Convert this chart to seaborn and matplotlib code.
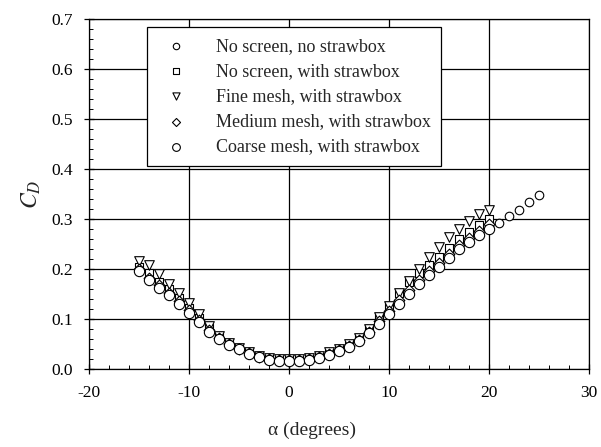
import numpy as np
import pandas as pd
import matplotlib
matplotlib.use('Agg')
import matplotlib.pyplot as plt
import seaborn as sns
from matplotlib.ticker import MultipleLocator

# angle of attack (degrees)
alpha_long = list(range(-15, 26))
alpha_std = list(range(-15, 21))

# drag coefficient per configuration
cd_no_screen_no_box = [0.198, 0.180, 0.164, 0.150, 0.133, 0.115, 0.096, 0.077, 0.062, 0.050,
                       0.041, 0.032, 0.025, 0.020, 0.018, 0.018, 0.018, 0.020, 0.023, 0.030,
                       0.037, 0.045, 0.057, 0.073, 0.093, 0.113, 0.133, 0.152, 0.172, 0.190,
                       0.208, 0.226, 0.243, 0.258, 0.272, 0.286, 0.293, 0.306, 0.318, 0.335, 0.349]
cd_no_screen_box = [0.205, 0.192, 0.175, 0.160, 0.142, 0.123, 0.103, 0.082, 0.065, 0.052,
                    0.043, 0.034, 0.026, 0.021, 0.019, 0.019, 0.020, 0.022, 0.026, 0.033,
                    0.040, 0.049, 0.062, 0.080, 0.105, 0.127, 0.152, 0.175, 0.192, 0.208,
                    0.225, 0.243, 0.260, 0.275, 0.289, 0.300]
cd_fine_mesh = [0.217, 0.208, 0.190, 0.170, 0.152, 0.132, 0.110, 0.086, 0.067, 0.052,
                0.043, 0.034, 0.027, 0.022, 0.020, 0.020, 0.021, 0.023, 0.027, 0.034,
                0.041, 0.050, 0.062, 0.080, 0.104, 0.126, 0.152, 0.176, 0.201, 0.225,
                0.245, 0.265, 0.281, 0.297, 0.310, 0.318]
cd_medium_mesh = [0.200, 0.183, 0.168, 0.153, 0.136, 0.118, 0.098, 0.079, 0.063, 0.050,
                  0.041, 0.032, 0.025, 0.020, 0.018, 0.018, 0.019, 0.021, 0.025, 0.031,
                  0.038, 0.046, 0.058, 0.075, 0.096, 0.117, 0.138, 0.158, 0.178, 0.197,
                  0.213, 0.231, 0.248, 0.262, 0.276, 0.290]
cd_coarse_mesh = [0.196, 0.178, 0.162, 0.148, 0.131, 0.113, 0.094, 0.075, 0.060, 0.048,
                  0.040, 0.031, 0.024, 0.019, 0.017, 0.017, 0.017, 0.019, 0.022, 0.029,
                  0.036, 0.044, 0.056, 0.072, 0.091, 0.111, 0.131, 0.150, 0.170, 0.188,
                  0.205, 0.223, 0.240, 0.255, 0.268, 0.281]

labels = ['No screen, no strawbox', 'No screen, with strawbox', 'Fine mesh, with strawbox',
          'Medium mesh, with strawbox', 'Coarse mesh, with strawbox']
markers = ['o', 's', 'v', 'D', 'o']
sizes = [38, 38, 48, 30, 55]

series = [(alpha_long, cd_no_screen_no_box), (alpha_std, cd_no_screen_box),
          (alpha_std, cd_fine_mesh), (alpha_std, cd_medium_mesh), (alpha_std, cd_coarse_mesh)]

sns.set_theme(style="ticks")
plt.rcParams['font.family'] = ['Liberation Serif', 'DejaVu Serif']
plt.rcParams['mathtext.fontset'] = 'stix'
plt.rcParams['axes.unicode_minus'] = False

fig = plt.figure(figsize=(6.01, 4.47), dpi=100)
ax = fig.add_axes([89 / 601, 1 - 369 / 447, 500 / 601, 350 / 447])

for (xs, ys), lab, mk, sz in zip(series, labels, markers, sizes):
    df = pd.DataFrame({'alpha': xs, 'cd': ys})
    sns.scatterplot(data=df, x='alpha', y='cd', marker=mk, s=sz, color='white',
                    edgecolor='black', linewidth=0.8, label=lab, ax=ax, zorder=3)

ax.set_xlim(-20, 30)
ax.set_ylim(0, 0.7)
ax.set_xticks([-20, -10, 0, 10, 20, 30])
ax.set_yticks(np.arange(0, 0.71, 0.1))
ax.set_yticklabels([f'{v:.1f}' for v in np.arange(0, 0.71, 0.1)])
ax.xaxis.set_minor_locator(MultipleLocator(2))
ax.yaxis.set_minor_locator(MultipleLocator(0.02))
ax.tick_params(which='major', direction='inout', length=7, width=0.9, colors='black',
               labelsize=12.5, pad=8)
ax.tick_params(which='minor', direction='in', length=3, width=0.7, colors='black')
ax.grid(True, which='major', color='black', linewidth=0.9)
for sp in ax.spines.values():
    sp.set_color('black')
    sp.set_linewidth(0.9)

ax.set_xlabel('α (degrees)', fontsize=14)
ax.xaxis.set_label_coords(0.445, -0.15)
ax.set_ylabel('$C_D$', fontsize=17, rotation=90, labelpad=6)

leg = ax.legend(loc='upper left', bbox_to_anchor=(0.116, 0.977), borderaxespad=0,
                fontsize=13, frameon=True, fancybox=False, framealpha=1,
                edgecolor='black', handletextpad=1.2, labelspacing=0.45,
                borderpad=0.6, markerscale=0.75)
leg.get_frame().set_linewidth(0.9)
leg.set_zorder(5)

plt.savefig('out.png', dpi=100)
